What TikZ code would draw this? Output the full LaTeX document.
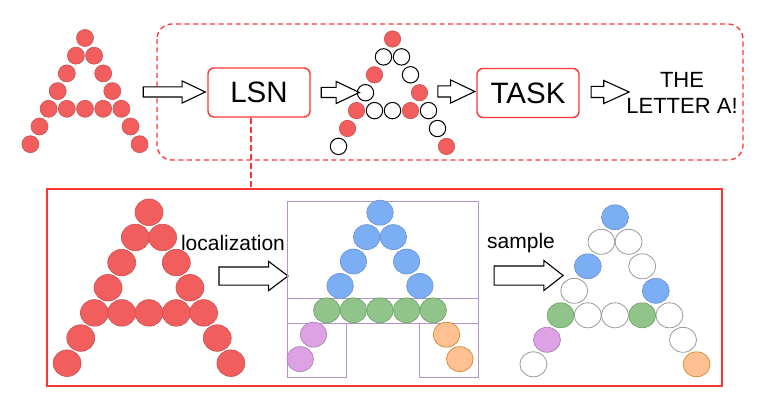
\documentclass[tikz,border=0pt]{standalone}
\usepackage{fontspec}
\setmainfont{Liberation Sans}
\usetikzlibrary{shapes.arrows}

\definecolor{frameRed}{HTML}{FF3535}
\definecolor{dotRed}{HTML}{F25E5E}
\definecolor{dotRedLine}{HTML}{C8504F}
\definecolor{dotBlue}{HTML}{7BAEF5}
\definecolor{dotBlueLine}{HTML}{6A90D0}
\definecolor{dotGreen}{HTML}{90C48A}
\definecolor{dotGreenLine}{HTML}{689E62}
\definecolor{dotPurple}{HTML}{DDA2E3}
\definecolor{dotPurpleLine}{HTML}{A878B8}
\definecolor{dotOrange}{HTML}{FFC192}
\definecolor{dotOrangeLine}{HTML}{D07C1C}
\definecolor{partLine}{HTML}{B495CA}

\tikzset{
  R/.style={fill=dotRed, draw=dotRedLine, line width=0.6pt},
  B/.style={fill=dotBlue, draw=dotBlueLine, line width=0.6pt},
  G/.style={fill=dotGreen, draw=dotGreenLine, line width=0.6pt},
  P/.style={fill=dotPurple, draw=dotPurpleLine, line width=0.6pt},
  O/.style={fill=dotOrange, draw=dotOrangeLine, line width=0.6pt},
  E/.style={fill=white, draw=gray!80, line width=0.8pt},
  K/.style={fill=white, draw=black, line width=1pt},
  boxed/.style={draw=frameRed, line width=1.4pt, rounded corners=6pt,
    minimum width=102pt, minimum height=49pt, font=\fontsize{29.5}{32}\selectfont},
  blockarrow/.style={single arrow, draw=black, line width=1.1pt, fill=white,
    inner xsep=0pt, anchor=center},
  label/.style={font=\fontsize{21}{24}\selectfont, inner sep=0pt}
}

% draws one letter A made of dots
% #1,#2 top dot, #3 half step, #4 row step, #5,#6 radii, #7 dots h/row/style
\newcommand{\letterA}[7]{%
  \foreach \h/\r/\s in {#7}{%
    \path[\s] ({#1+(\h)*#3},{#2+(\r)*#4}) ellipse [x radius=#5pt, y radius=#6pt];
  }%
}

\begin{document}
\begin{tikzpicture}[x=1pt,y=-1pt]
  \useasboundingbox (0,0) rectangle (773,409);

  % top row
  \draw[frameRed, line width=1.3pt, dash pattern=on 5pt off 3.5pt, rounded corners=15pt]
    (157,24) rectangle (743,160);
  \letterA{85}{38}{9.1}{17.7}{8.5}{8.5}{0/0/R,-1/1/R,1/1/R,-2/2/R,2/2/R,-3/3/R,3/3/R,
    -4/4/R,-2/4/R,0/4/R,2/4/R,4/4/R,-5/5/R,5/5/R,-6/6/R,6/6/R}
  \node[boxed] (lsn) at (259,92.5) {LSN};
  \letterA{392.5}{39}{9.0}{17.9}{8.2}{8.2}{0/0/R,-1/1/K,1/1/K,-2/2/R,2/2/K,-3/3/K,3/3/R,
    -4/4/R,-2/4/K,0/4/K,2/4/R,4/4/K,-5/5/R,5/5/K,-6/6/K,6/6/R}
  \node[boxed] (task) at (528,93) {TASK};
  \node[align=center, inner sep=0pt, font=\fontsize{22}{25.5}\selectfont] (answer)
    at (682,93) {THE\\LETTER A!};
  \node[blockarrow, minimum height=62pt, inner ysep=4.5pt,
    single arrow head extend=6pt, single arrow tip angle=51] (arrIn) at (169,92) {};
  \node[blockarrow, minimum height=38pt, inner ysep=4.5pt,
    single arrow head extend=6pt, single arrow tip angle=51] (arrLsn) at (335,92.5) {};
  \node[blockarrow, minimum height=37pt, inner ysep=5pt,
    single arrow head extend=6pt, single arrow tip angle=51] (arrMid) at (450.5,91.5) {};
  \node[blockarrow, minimum height=38pt, inner ysep=5pt,
    single arrow head extend=6pt, single arrow tip angle=49] (arrTask) at (604,92) {};

  % zoom into the LSN
  \node[draw=frameRed, line width=2pt, inner sep=0pt, minimum width=675pt,
    minimum height=197pt] (detail) at (384.5,287.5) {};
  \coordinate (tap) at ([xshift=-8pt]lsn.south);
  \draw[frameRed, line width=2pt, dash pattern=on 6pt off 3pt] (tap) -- (tap |- detail.north);

  % input letter
  \letterA{149}{212.3}{13.65}{25.15}{14}{13.3}{0/0/R,-1/1/R,1/1/R,-2/2/R,2/2/R,-3/3/R,3/3/R,
    -4/4/R,-2/4/R,0/4/R,2/4/R,4/4/R,-5/5/R,5/5/R,-6/6/R,6/6/R}
  \node[label] (loc) at (233,243) {localization};
  \node[blockarrow, minimum height=69pt, inner ysep=8.5pt,
    single arrow head extend=5.5pt, single arrow tip angle=74] (arrLoc) at (247.5,276) {};

  % localized parts
  \draw[partLine, line width=0.9pt] (287,201) rectangle (478,298)
    (287,298) rectangle (478,323) (287,323) rectangle (346,377) (419,323) rectangle (478,377);
  \letterA{380}{212.7}{13.3}{24.4}{13.3}{12.5}{0/0/B,-1/1/B,1/1/B,-2/2/B,2/2/B,-3/3/B,3/3/B,
    -4/4/G,-2/4/G,0/4/G,2/4/G,4/4/G,-5/5/P,5/5/O,-6/6/P,6/6/O}
  \node[label] (smp) at (521,243) {sample};
  \node[blockarrow, minimum height=69pt, inner ysep=9pt,
    single arrow head extend=5.5pt, single arrow tip angle=76] (arrSmp) at (522.5,275.5) {};

  % sampled dots
  \letterA{615}{217.3}{13.6}{24.5}{13.5}{12.5}{0/0/B,-1/1/E,1/1/E,-2/2/B,2/2/E,-3/3/E,3/3/B,
    -4/4/G,-2/4/E,0/4/E,2/4/G,4/4/E,-5/5/P,5/5/E,-6/6/E,6/6/O}
\end{tikzpicture}
\end{document}
